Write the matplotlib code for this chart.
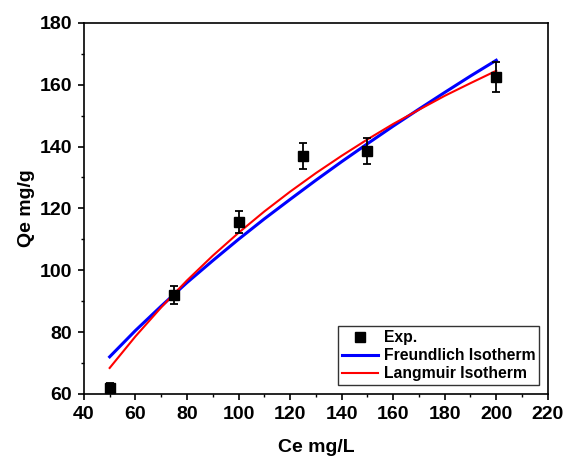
import numpy as np
import matplotlib.pyplot as plt

plt.rcParams['font.family'] = ['Liberation Sans', 'DejaVu Sans']
plt.rcParams['font.weight'] = 'bold'

# experimental data
ce = [50, 75, 100, 125, 150, 200]
qe = [62.0, 92.0, 115.6, 136.8, 138.7, 162.4]
qe_err = [1.5, 2.8, 3.6, 4.2, 4.2, 4.8]

# fitted curves
ce_fit = [50, 60, 70, 80, 90, 100, 110, 120, 130, 140, 150, 160, 170, 180, 190, 200]
freundlich = [72.0, 80.5, 88.4, 96.0, 103.1, 110.0, 116.6, 122.9, 129.1, 135.1,
              140.9, 146.6, 152.1, 157.5, 162.8, 167.9]
langmuir = [68.4, 78.6, 88.0, 96.7, 104.7, 112.1, 119.0, 125.4, 131.4, 137.0,
            142.3, 147.3, 151.9, 156.4, 160.5, 164.5]

fig = plt.figure(figsize=(5.63, 4.57), dpi=100)
ax = fig.add_axes([0.149, 0.138, 0.824, 0.812])

eb = ax.errorbar(ce, qe, yerr=qe_err, fmt='s', color='black', ms=7.5, capsize=3,
                 elinewidth=1.3, capthick=1.3, zorder=3)
fr, = ax.plot(ce_fit, freundlich, color='blue', lw=2.2)
la, = ax.plot(ce_fit, langmuir, color='red', lw=1.5)

ax.set_xlim(40, 220)
ax.set_ylim(60, 180)
ax.set_xticks(np.arange(40, 221, 20))
ax.set_xticks(np.arange(50, 220, 20), minor=True)
ax.set_yticks(np.arange(60, 181, 20))
ax.set_yticks(np.arange(70, 180, 20), minor=True)
ax.tick_params(which='major', length=4.5, width=1.2, labelsize=14, pad=4, direction='out')
ax.tick_params(which='minor', length=2.5, width=1.0, direction='out')
for lbl in ax.get_xticklabels() + ax.get_yticklabels():
    lbl.set_fontweight('bold')
for s in ax.spines.values():
    s.set_linewidth(1.2)

ax.set_xlabel('Ce mg/L', fontsize=14, fontweight='bold', labelpad=12)
ax.set_ylabel('Qe mg/g', fontsize=14, fontweight='bold', labelpad=3)

leg = ax.legend([eb[0], fr, la], ['Exp.', 'Freundlich Isotherm', 'Langmuir Isotherm'],
                loc='lower right', fancybox=False, edgecolor='black',
                prop={'weight': 'bold', 'size': 11.3}, handlelength=2.3,
                borderpad=0.25, labelspacing=0.2, handletextpad=0.35,
                borderaxespad=0.55)
leg.get_frame().set_linewidth(1.0)

plt.savefig('out.png', dpi=100)
